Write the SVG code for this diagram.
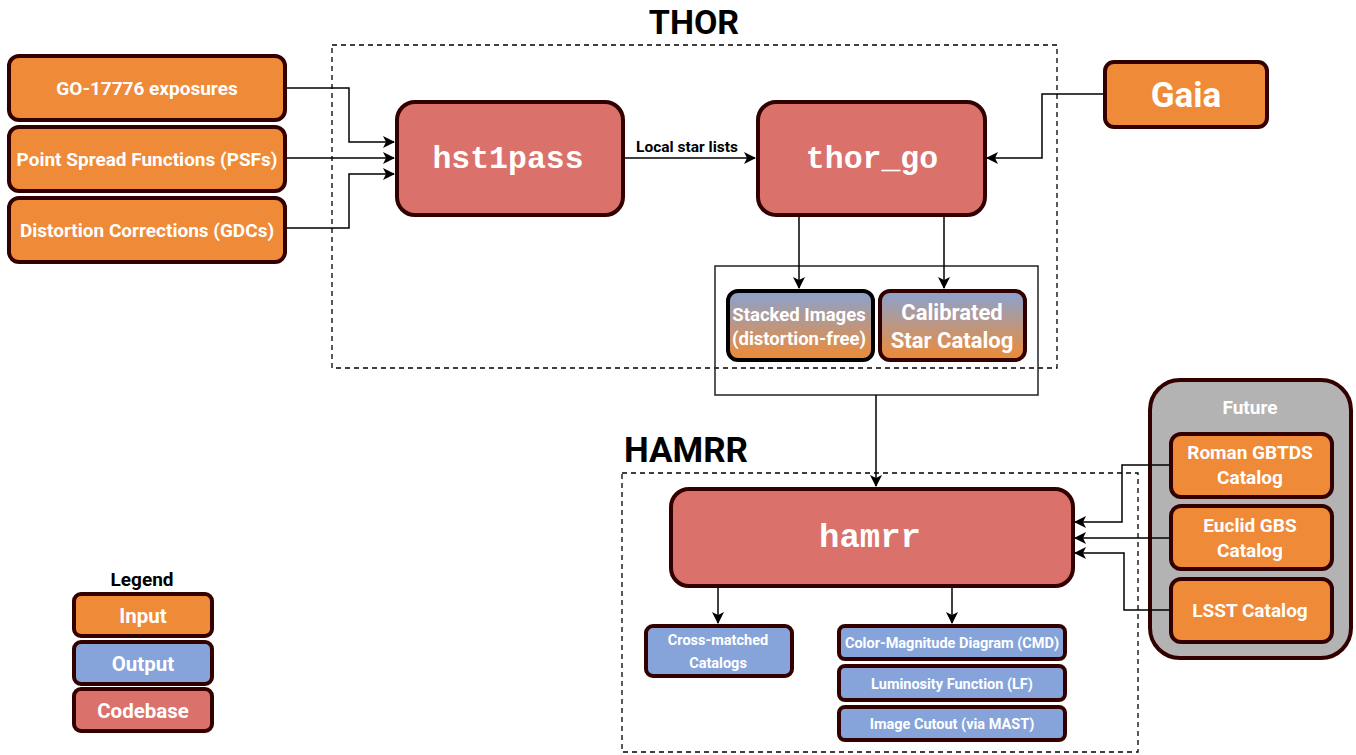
<svg xmlns="http://www.w3.org/2000/svg" width="1356" height="755" viewBox="0 0 1356 755">
<defs>
<linearGradient id="grad" x1="0" y1="0" x2="0" y2="1">
<stop offset="0" stop-color="#89A3D1"/>
<stop offset="1" stop-color="#EE8A35"/>
</linearGradient>
<marker id="arr" viewBox="0 0 12 12" refX="11" refY="6" markerWidth="12" markerHeight="12" markerUnits="userSpaceOnUse" orient="auto">
<path d="M0,0 L12,6 L0,12 L3,6 Z" fill="#000"/>
</marker>
<style>
.in{fill:#EF8A38;stroke:#330000;stroke-width:4}
.code{fill:#DA716B;stroke:#330000;stroke-width:4}
.out{fill:#86A4DA;stroke:#330000;stroke-width:4}
.t{font-family:Roboto,"Liberation Sans",sans-serif;font-weight:bold;fill:#fff;text-anchor:middle}
.mono{font-family:"Courier New","Liberation Mono",monospace;font-weight:bold;fill:#fff;text-anchor:middle}
.h{font-family:Roboto,"Liberation Sans",sans-serif;font-weight:bold;fill:#000;text-anchor:middle}
.c{fill:none;stroke:#000;stroke-width:1.5}
.dash{fill:none;stroke:#000;stroke-width:1.3;stroke-dasharray:5,4}
</style>
</defs>
<rect width="1356" height="755" fill="#fff"/>

<g id="thor-frame">
<rect class="dash" x="332" y="45" width="725" height="323"/>
<text class="h" x="694" y="34" font-size="34">THOR</text>
</g>
<g id="hamrr-frame">
<rect class="dash" x="622" y="473" width="516" height="279"/>
<text class="h" x="686" y="462" font-size="35">HAMRR</text>
</g>
<g id="outputs-frame">
<rect x="715" y="266" width="323" height="129" fill="none" stroke="#222" stroke-width="1.5"/>
</g>

<g id="future">
<rect x="1150" y="380" width="201" height="278" rx="30" fill="#B3B3B3" stroke="#330000" stroke-width="4"/>
<text class="t" x="1250" y="414" font-size="19">Future</text>
</g>

<g id="connectors">
<path class="c" d="M285,88 H349 V142 H394" marker-end="url(#arr)"/>
<path class="c" d="M285,158 H394" marker-end="url(#arr)"/>
<path class="c" d="M285,228 H349 V174 H394" marker-end="url(#arr)"/>
<path class="c" d="M623,158 H755" marker-end="url(#arr)"/>
<text x="687" y="152" font-family="Roboto,'Liberation Sans',sans-serif" font-weight="bold" font-size="15.5" text-anchor="middle" fill="#000">Local star lists</text>
<path class="c" d="M1104,94 H1042 V158 H987" marker-end="url(#arr)"/>
<path class="c" d="M799,215 V288" marker-end="url(#arr)"/>
<path class="c" d="M944,215 V288" marker-end="url(#arr)"/>
<path class="c" d="M876,395 V486" marker-end="url(#arr)"/>
<path class="c" d="M718,586 V623" marker-end="url(#arr)"/>
<path class="c" d="M952,586 V623" marker-end="url(#arr)"/>
<path class="c" d="M1170,465 H1122 V522 H1075" marker-end="url(#arr)"/>
<path class="c" d="M1170,538 H1075" marker-end="url(#arr)"/>
<path class="c" d="M1170,610 H1124 V553 H1075" marker-end="url(#arr)"/>
</g>

<g id="go17776"><rect class="in" x="9" y="56" width="276" height="64" rx="10"/><text class="t" x="147" y="95" font-size="19">GO-17776 exposures</text></g>
<g id="psf"><rect class="in" x="9" y="127" width="276" height="64" rx="10"/><text class="t" x="147" y="166" font-size="19">Point Spread Functions (PSFs)</text></g>
<g id="gdc"><rect class="in" x="9" y="198" width="276" height="64" rx="10"/><text class="t" x="147" y="237" font-size="19">Distortion Corrections (GDCs)</text></g>

<g id="hst1pass"><rect class="code" x="397" y="102" width="226" height="113" rx="18"/><text class="mono" x="508" y="168" font-size="31.5">hst1pass</text></g>
<g id="thor_go"><rect class="code" x="758" y="102" width="227" height="113" rx="18"/><text class="mono" x="872" y="168" font-size="31.5">thor_go</text></g>

<g id="gaia"><rect class="in" x="1105" y="62" width="162" height="65" rx="9"/><text class="t" x="1186" y="107" font-size="35">Gaia</text></g>

<g id="stacked"><rect x="728" y="291" width="145" height="69" rx="10" fill="url(#grad)" stroke="#000" stroke-width="4"/>
<text class="t" x="799" y="321" font-size="18.5">Stacked Images</text><text class="t" x="799" y="345" font-size="18.5">(distortion-free)</text></g>
<g id="calibrated"><rect x="880" y="291" width="145" height="69" rx="10" fill="url(#grad)" stroke="#330000" stroke-width="4"/>
<text class="t" x="952" y="320" font-size="22">Calibrated</text><text class="t" x="952" y="348" font-size="22">Star Catalog</text></g>

<g id="hamrr"><rect class="code" x="671" y="489" width="402" height="97" rx="18"/><text class="mono" x="870" y="547" font-size="34">hamrr</text></g>

<g id="crossmatched"><rect class="out" x="646" y="626" width="146" height="50" rx="7"/>
<text class="t" x="718" y="645" font-size="14.5">Cross-matched</text><text class="t" x="718" y="668" font-size="14.5">Catalogs</text></g>
<g id="cmd"><rect class="out" x="839" y="626" width="226" height="33" rx="6"/><text class="t" x="952" y="648" font-size="14.5">Color-Magnitude Diagram (CMD)</text></g>
<g id="lf"><rect class="out" x="839" y="666" width="226" height="34" rx="6"/><text class="t" x="952" y="689" font-size="14.5">Luminosity Function (LF)</text></g>
<g id="cutout"><rect class="out" x="839" y="707" width="226" height="33" rx="6"/><text class="t" x="952" y="729" font-size="14.5">Image Cutout (via MAST)</text></g>

<g id="roman"><rect class="in" x="1171" y="434" width="161" height="63" rx="10"/>
<text class="t" x="1250" y="459" font-size="19">Roman GBTDS</text><text class="t" x="1250" y="484" font-size="19">Catalog</text></g>
<g id="euclid"><rect class="in" x="1171" y="506" width="161" height="63" rx="10"/>
<text class="t" x="1250" y="532" font-size="19">Euclid GBS</text><text class="t" x="1250" y="557" font-size="19">Catalog</text></g>
<g id="lsst"><rect class="in" x="1171" y="579" width="161" height="63" rx="10"/>
<text class="t" x="1250" y="617" font-size="19">LSST Catalog</text></g>

<g id="legend">
<text class="h" x="142" y="586" font-size="19">Legend</text>
<rect class="in" x="74" y="594" width="138" height="42" rx="7"/><text class="t" x="143" y="623" font-size="20.5">Input</text>
<rect class="out" x="74" y="642" width="138" height="42" rx="7"/><text class="t" x="143" y="671" font-size="20.5">Output</text>
<rect class="code" x="74" y="689" width="138" height="42" rx="7"/><text class="t" x="143" y="718" font-size="20.5">Codebase</text>
</g>
</svg>
